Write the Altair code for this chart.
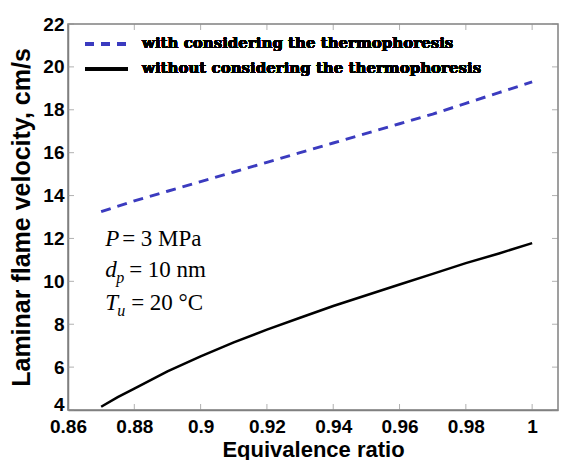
import altair as alt
import pandas as pd

# ---- data ----
phi_with = [0.87, 0.88, 0.89, 0.90, 0.91, 0.92, 0.93, 0.94, 0.95, 0.96, 0.97, 0.98, 0.99, 1.00]
vel_with = [13.25, 13.75, 14.2, 14.65, 15.1, 15.55, 16.0, 16.45, 16.9, 17.35, 17.8, 18.3, 18.8, 19.3]

phi_without = [0.87, 0.875, 0.88, 0.89, 0.90, 0.91, 0.92, 0.93, 0.94, 0.95, 0.96, 0.97, 0.98, 0.99, 1.00]
vel_without = [4.15, 4.6, 5.0, 5.8, 6.5, 7.15, 7.75, 8.3, 8.85, 9.35, 9.85, 10.35, 10.85, 11.3, 11.78]

x_ticks = [0.86, 0.88, 0.90, 0.92, 0.94, 0.96, 0.98, 1.00]
y_ticks = [4, 6, 8, 10, 12, 14, 16, 18, 20, 22]

series_labels = ["with considering the thermophoresis", "without considering the thermophoresis"]
series_colors = ["#3b3bbf", "#000000"]

X_DOMAIN = [0.86, 1.0078]
Y_DOMAIN = [4, 22]
W, H = 490, 386

df_with = pd.DataFrame({"phi": phi_with, "v": vel_with})
df_without = pd.DataFrame({"phi": phi_without, "v": vel_without})

xs = alt.Scale(domain=X_DOMAIN, nice=False, zero=False)
ys = alt.Scale(domain=Y_DOMAIN, nice=False, zero=False)

sans = "Liberation Sans"
serif = "Liberation Serif"

x_axis = alt.Axis(
    values=x_ticks, format="~g", ticks=False, grid=False,
    labelFont=sans, labelFontWeight="bold", labelFontSize=19, labelColor="black",
    labelPadding=7, titleFont=sans, titleFontWeight="bold", titleFontSize=22,
    titleColor="black", titlePadding=3, domainColor="#808080", domainWidth=1.5,
    labelFlush=False, labelOverlap=False,
)
y_axis = alt.Axis(
    values=y_ticks, ticks=False, grid=False,
    labelFont=sans, labelFontWeight="bold", labelFontSize=19, labelColor="black",
    labelPadding=4, titleFont=sans, titleFontWeight="bold", titleFontSize=25,
    titleColor="black", titlePadding=8, domainColor="#808080", domainWidth=1.5,
    labelFlush=False, labelOverlap=False,
    labelBaseline={"condition": {"test": "datum.value == 4", "value": "alphabetic"}, "value": "middle"},
)

line_with = alt.Chart(df_with).mark_line(
    color=series_colors[0], strokeWidth=3, strokeDash=[10, 7]
).encode(
    x=alt.X("phi:Q", scale=xs, axis=x_axis, title="Equivalence ratio"),
    y=alt.Y("v:Q", scale=ys, axis=y_axis, title="Laminar flame velocity, cm/s"),
)
line_without = alt.Chart(df_without).mark_line(
    color=series_colors[1], strokeWidth=2.5
).encode(x=alt.X("phi:Q", scale=xs), y=alt.Y("v:Q", scale=ys))

# inward tick marks on all four sides (MATLAB box style)
dfx = pd.DataFrame({"t": x_ticks})
dfy = pd.DataFrame({"t": y_ticks})
tick_col = "#909090"
xt_bottom = alt.Chart(dfx).mark_tick(color=tick_col, size=6, thickness=1, yOffset=-3).encode(
    x=alt.X("t:Q", scale=xs), y=alt.value(H))
xt_top = alt.Chart(dfx).mark_tick(color=tick_col, size=6, thickness=1, yOffset=3).encode(
    x=alt.X("t:Q", scale=xs), y=alt.value(0))
yt_left = alt.Chart(dfy).mark_tick(color=tick_col, size=6, thickness=1, xOffset=3).encode(
    y=alt.Y("t:Q", scale=ys), x=alt.value(0))
yt_right = alt.Chart(dfy).mark_tick(color=tick_col, size=6, thickness=1, xOffset=-3).encode(
    y=alt.Y("t:Q", scale=ys), x=alt.value(W))

# manual legend (pixel placement inside plot area)
leg_font = "DejaVu Serif"
leg1_rule = alt.Chart(df_with).mark_rule(color=series_colors[0], strokeWidth=3, strokeDash=[9, 7]).encode(
    x=alt.value(17), x2=alt.value(60), y=alt.value(20))
leg2_rule = alt.Chart(df_with).mark_rule(color=series_colors[1], strokeWidth=2.5).encode(
    x=alt.value(17), x2=alt.value(60), y=alt.value(45))
leg1_text = alt.Chart(df_with).mark_text(
    text=series_labels[0], align="left", baseline="middle", font=leg_font,
    fontWeight="bold", fontSize=15, color="black").encode(x=alt.value(74), y=alt.value(19))
leg2_text = alt.Chart(df_with).mark_text(
    text=series_labels[1], align="left", baseline="middle", font=leg_font,
    fontWeight="bold", fontSize=15, color="black").encode(x=alt.value(74), y=alt.value(44))

# annotation block (anchored in data coordinates)
ann_x = 0.8712
ann_rows = pd.DataFrame({
    "x": [ann_x] * 8,
    "y": [11.65, 11.65, 10.2, 10.2, 10.2, 8.66, 8.66, 8.66],
    "txt": ["P", "= 3 MPa", "d", "p", "= 10 nm", "T", "u", "= 20 °C"],
    "style": ["italic", "normal", "italic", "italic", "normal", "italic", "italic", "normal"],
    "size": [23, 23, 23, 16, 23, 23, 16, 23],
    "dx": [0, 17, 0, 11, 24, 0, 12, 26],
    "dy": [0, 0, 0, 6, 0, 0, 6, 0],
})
ann_layers = []
for _, r in ann_rows.iterrows():
    ann_layers.append(
        alt.Chart(pd.DataFrame({"x": [r["x"]], "y": [r["y"]]})).mark_text(
            text=r["txt"], align="left", baseline="alphabetic", font=serif,
            fontStyle=r["style"], fontSize=int(r["size"]), color="black",
            dx=int(r["dx"]), dy=int(r["dy"]),
        ).encode(x=alt.X("x:Q", scale=xs), y=alt.Y("y:Q", scale=ys))
    )

chart = alt.layer(
    line_with, line_without, xt_bottom, xt_top, yt_left, yt_right,
    leg1_rule, leg2_rule, leg1_text, leg2_text, *ann_layers
).properties(
    width=W, height=H,
    autosize=alt.AutoSizeParams(type="none"),
    padding={"left": 68, "top": 24, "right": 6, "bottom": 50},
    background="white",
).configure_view(stroke="#808080", strokeWidth=1.5)

chart.save("out.html", embed_options={"renderer": "svg", "actions": False})
